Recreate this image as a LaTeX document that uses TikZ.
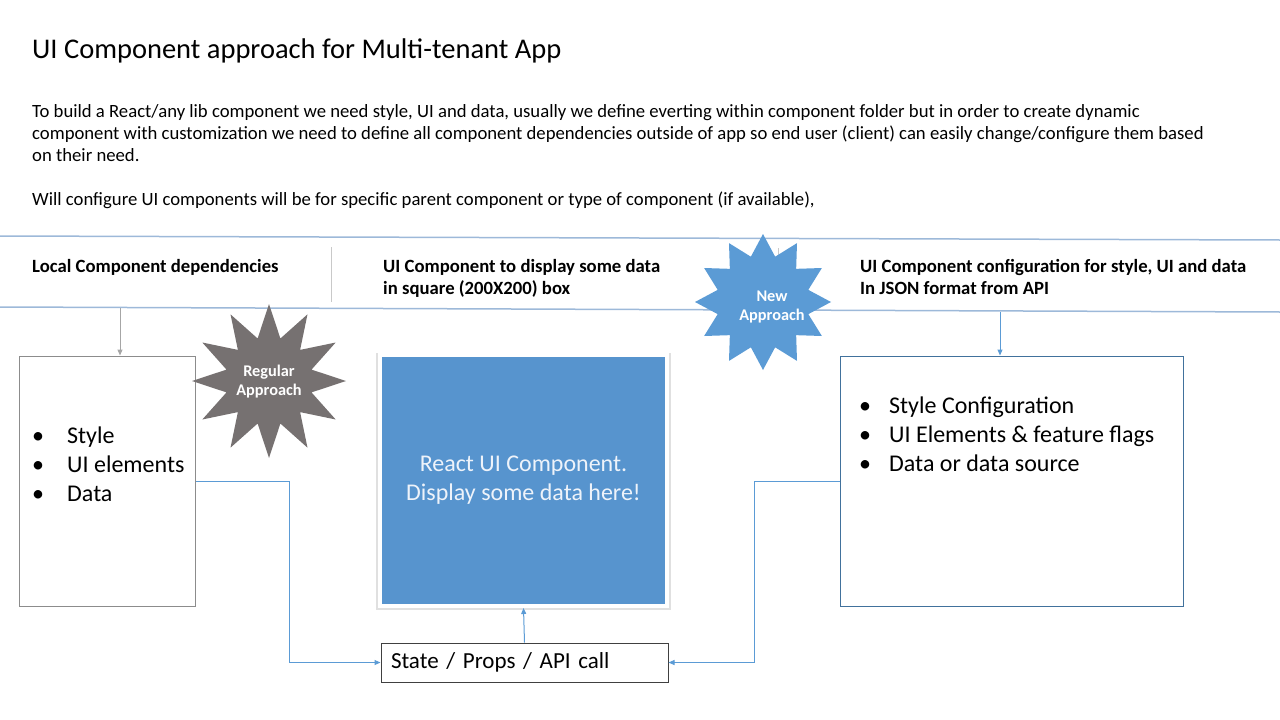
\documentclass[tikz,border=0pt]{standalone}
\usepackage{fontspec}
\setmainfont{Carlito}
\usepackage{tikz}
\usetikzlibrary{shapes.geometric}
\usetikzlibrary{arrows.meta}
\usetikzlibrary{shadows}
\definecolor{bandblue}{HTML}{9DB9D9}
\definecolor{sepgray}{HTML}{C9C9C9}
\definecolor{arrowgray}{HTML}{A6A6A6}
\definecolor{flowblue}{HTML}{5B9BD5}
\definecolor{boxgray}{HTML}{8C8C8C}
\definecolor{cfgborder}{HTML}{41719C}
\definecolor{stargray}{HTML}{767171}
\definecolor{starblue}{HTML}{5B9BD5}
\definecolor{reactblue}{HTML}{5794CE}
\definecolor{reacttext}{HTML}{EEF3FA}
\newcommand{\bull}[1]{\makebox[#1][l]{\textbullet}}
\tikzstyle{titletext} = [anchor=base west, inner sep=0pt, font=\fontsize{28.5}{34}\selectfont]
\tikzstyle{bodytext} = [anchor=base west, inner sep=0pt, align=left, font=\fontsize{18.7}{22}\selectfont]
\tikzstyle{bandtext} = [anchor=base west, inner sep=0pt, align=left, font=\fontsize{18.7}{22}\selectfont\bfseries]
\tikzstyle{bullettext} = [anchor=base west, inner sep=0pt, align=left, font=\fontsize{24}{29}\selectfont]
\tikzstyle{mybox} = [draw, fill=white, line width=1pt, rectangle]
\tikzstyle{componentbox} = [rectangle, fill=reactblue, draw=white, line width=4pt,
text=reacttext, align=center, font=\fontsize{24}{29}\selectfont,
general shadow={fill=black!30, opacity=0.4, shadow scale=1.025, shadow yshift=-1pt}]
\tikzstyle{callbox} = [draw=black!75, fill=white, line width=1pt, rectangle, align=left,
inner xsep=10pt, font=\fontsize{23}{29}\selectfont]
\tikzstyle{burst} = [star, star points=12, star point ratio=1.75, inner sep=0pt]
\tikzstyle{bursttext} = [text=white, align=center, inner sep=0pt, font=\fontsize{16.3}{19}\selectfont\bfseries]
\tikzstyle{flow} = [draw=flowblue, line width=1pt, -{Triangle[length=6pt,width=5pt]}]
\tikzstyle{greyflow} = [draw=arrowgray, line width=1pt, -{Triangle[length=6pt,width=5pt]}]

\begin{document}
\begin{tikzpicture}[x=1pt,y=-1pt]
        \useasboundingbox (0,0) rectangle (1280,720);
        \node[titletext] (title) at (32,58) {UI Component approach for Multi-tenant App};
        \node[bodytext] (intro) at (32,161) {To build a React/any lib component we need style, UI and data, usually we define everting within component folder but in order to create dynamic\\
            component with customization we need to define all component dependencies outside of app so end user (client) can easily change/configure them based\\
            on their need.};
        \node[bodytext] (note) at (32,205) {Will configure UI components will be for specific parent component or type of component (if available),};

        \draw[bandblue, line width=1.5pt] (0,236) -- (1280,240);
        \draw[bandblue, line width=1.5pt] (0,307) -- (1280,312);
        \draw[sepgray, line width=1pt] (331,247) -- (331,302);
        \draw[sepgray, line width=1pt] (778,248) -- (778,272);

        \node[bandtext] (localhead) at (32,272) {Local Component dependencies};
        \node[bandtext] (reacthead) at (383,294) {UI Component to display some data\\in square (200X200) box};
        \node[bandtext] (confhead) at (860,294) {UI Component configuration for style, UI and data\\In JSON format from API};

        \node[mybox, draw=boxgray, minimum width=176pt, minimum height=250pt] (depbox) at (107,481) {};
        \node[bullettext] (deplist) at (32,501) {\bull{35pt}Style\\\bull{35pt}UI elements\\\bull{35pt}Data};
        \node[mybox, draw=cfgborder, minimum width=343pt, minimum height=250pt] (cfgbox) at (1011.5,481) {};
        \node[bullettext] (cfglist) at (859,471) {\bull{30pt}Style Configuration\\\bull{30pt}UI Elements \& feature flags\\\bull{30pt}Data or data source};

        \node[componentbox, minimum width=287pt, minimum height=251pt] (reactbox) at (523.5,480.5) {React UI Component.\\Display some data here!};
        \node[callbox, minimum width=287pt, minimum height=39pt, text width=267pt] (statebox) at (524.5,662.5) {State / Props / API call};

        \node[burst, fill=stargray, minimum size=154pt] (regstar) at (269,381) {};
        \node[bursttext] (regtext) at (269,382) {Regular\\Approach};
        \node[burst, fill=starblue, minimum size=136pt, star point ratio=1.45] (newstar) at (763,302) {};
        \node[bursttext] (newtext) at (772,307) {New\\Approach};

        \coordinate (localdrop) at (120,308);
        \coordinate (confdrop) at (1000,312);
        \draw[greyflow] (localdrop) -- (localdrop |- depbox.north);
        \draw[flow] (confdrop) -- (confdrop |- cfgbox.north);
        \draw[flow] (depbox.east) -- ++(94,0) |- (statebox.west);
        \draw[flow] (cfgbox.west) -- ++(-85,0) |- (statebox.east);
        \draw[flow] (statebox.north) -- (reactbox.south);
    \end{tikzpicture}
\end{document}
